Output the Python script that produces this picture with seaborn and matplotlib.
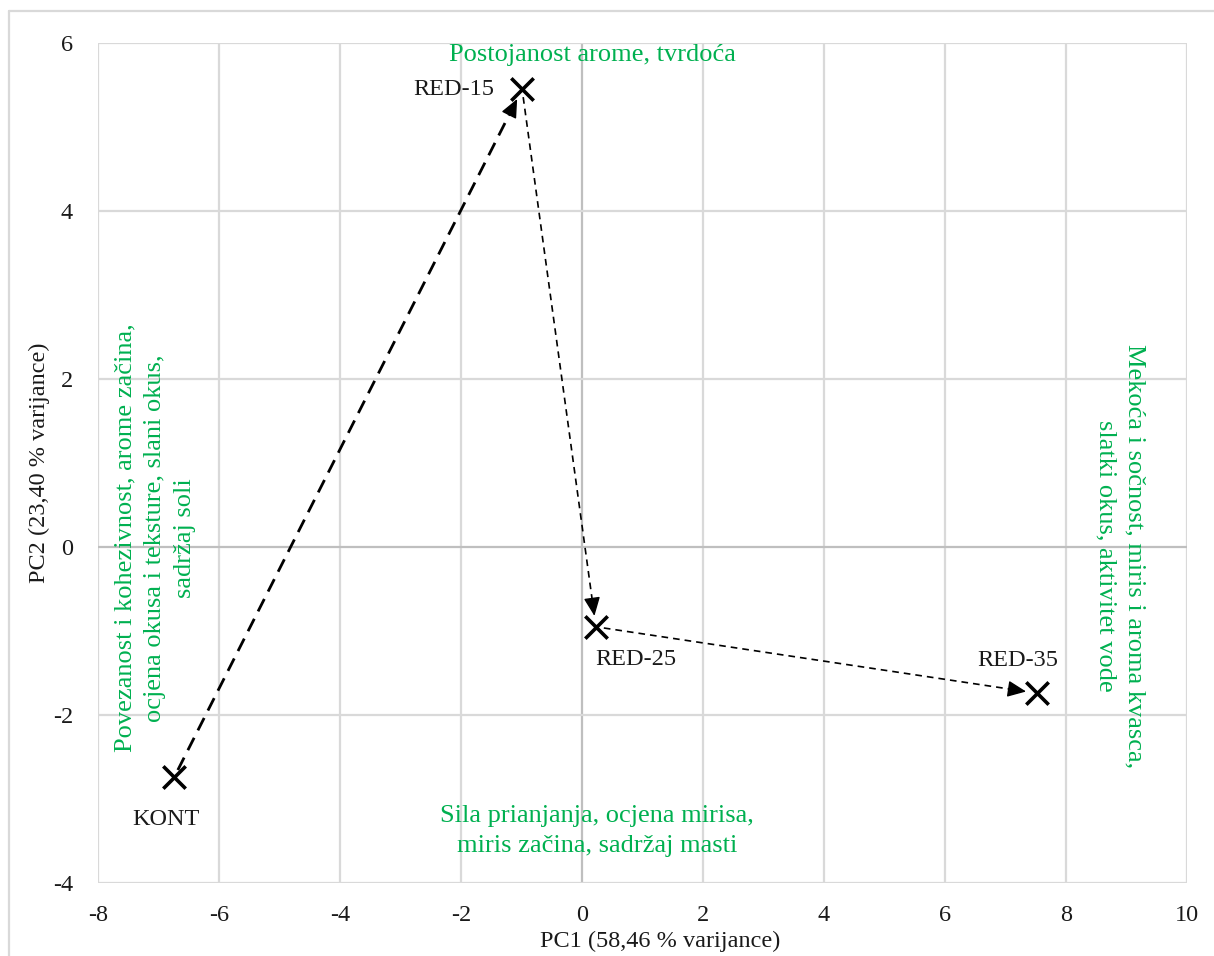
import numpy as np
import pandas as pd
import seaborn as sns
import matplotlib.pyplot as plt
from matplotlib.lines import Line2D

# PCA scores
samples = ['KONT', 'RED-15', 'RED-25', 'RED-35']
pc1 = [-6.74, -0.99, 0.23, 7.52]
pc2 = [-2.74, 5.45, -0.95, -1.74]

x_label = 'PC1 (58,46 % varijance)'
y_label = 'PC2 (23,40 % varijance)'

# descriptors of the four directions
top_txt = 'Postojanost arome, tvrdoća'
bottom_txt = 'Sila prianjanja, ocjena mirisa,\nmiris začina, sadržaj masti'
left_txt = 'Povezanost i kohezivnost, arome začina,\nocjena okusa i teksture, slani okus,\nsadržaj soli'
right_txt = 'Mekoća i sočnost, miris i aroma kvasca,\nslatki okus, aktivitet vode'

data = pd.DataFrame({'sample': samples, 'PC1': pc1, 'PC2': pc2})

sns.set_theme(style='white')
plt.rcParams['font.family'] = ['Liberation Serif', 'DejaVu Serif']
plt.rcParams['axes.unicode_minus'] = False

green = '#00B050'
grid_c = '#d9d9d9'
zero_c = '#bfbfbf'

fig = plt.figure(figsize=(12.14, 9.56), dpi=100)
ax = fig.add_axes([98/1214, 1 - 883/956, 1089/1214, 840/956])

# outer chart border (only left/top visible)
fig.add_artist(Line2D([9/1214, 9/1214], [0, 1 - 11/956], transform=fig.transFigure, color=grid_c, lw=1.6))
fig.add_artist(Line2D([9/1214, 1], [1 - 11/956, 1 - 11/956], transform=fig.transFigure, color=grid_c, lw=1.6))

ax.set_xlim(-8, 10)
ax.set_ylim(-4, 6)
ax.set_xticks(np.arange(-8, 11, 2))
ax.set_yticks(np.arange(-4, 7, 2))
for v in np.arange(-8, 11, 2):
    ax.axvline(v, color=zero_c if v == 0 else grid_c, lw=1.6, zorder=0)
for v in np.arange(-4, 7, 2):
    ax.axhline(v, color=zero_c if v == 0 else grid_c, lw=1.6, zorder=0)
for s in ax.spines.values():
    s.set_visible(False)
ax.tick_params(axis='both', length=0, labelsize=17.5, labelcolor='#1a1a1a')
ax.tick_params(axis='y', pad=18)
ax.tick_params(axis='x', pad=16)

# arrows between samples: first thick dashed, the rest thin dashed
styles = [dict(lw=2.0, ls=(0, (5, 3))), dict(lw=1.2, ls=(0, (4, 3))), dict(lw=1.2, ls=(0, (4, 3)))]
px = np.array([60.5, 84.0])  # pixels per data unit, used to shorten arrows a little
for i in range(len(samples) - 1):
    p0 = np.array([pc1[i], pc2[i]])
    p1 = np.array([pc1[i + 1], pc2[i + 1]])
    d = (p1 - p0) * px
    u = d / np.linalg.norm(d)
    start = p0 + u * 8 / px
    tip = p1 - u * 11 / px
    base = tip - u * 16 / px
    ax.plot([start[0], base[0]], [start[1], base[1]], color='black', zorder=2, **styles[i])
    ax.annotate('', xy=tip, xytext=base,
                arrowprops=dict(arrowstyle='-|>,head_length=0.95,head_width=0.42',
                                color='black', lw=1, shrinkA=0, shrinkB=0), zorder=3)

sns.scatterplot(data=data, x='PC1', y='PC2', marker='x', s=260, color='black',
                linewidth=2.6, ax=ax, zorder=4, legend=False)

# sample labels
offsets = {'KONT': (-8, -42, 'center'), 'RED-15': (-28, 0, 'right'),
           'RED-25': (-1, -33, 'left'), 'RED-35': (-19, 33, 'center')}
for name, x, y in zip(samples, pc1, pc2):
    dx, dy, ha = offsets[name]
    ax.annotate(name, (x, y), xytext=(dx, dy), textcoords='offset pixels',
                ha=ha, va='center', fontsize=17.5, color='#1a1a1a')

ax.text(0.17, 5.86, top_txt, color=green, fontsize=19, ha='center', va='center')
ax.text(0.25, -3.38, bottom_txt, color=green, fontsize=19, ha='center', va='center', linespacing=1.5)
ax.text(-7.06, 0.11, left_txt, color=green, fontsize=19, ha='center', va='center',
        rotation=90, multialignment='center', linespacing=1.45)
ax.text(8.89, -0.11, right_txt, color=green, fontsize=19, ha='center', va='center',
        rotation=-90, multialignment='center', linespacing=1.4)

ax.set_xlabel(x_label, fontsize=17.5, color='#1a1a1a')
ax.set_ylabel(y_label, fontsize=17.5, color='#1a1a1a')
ax.xaxis.set_label_coords(0.516, -0.057)
ax.yaxis.set_label_coords(-0.044, 0.5)

fig.savefig('out.png', dpi=100)
